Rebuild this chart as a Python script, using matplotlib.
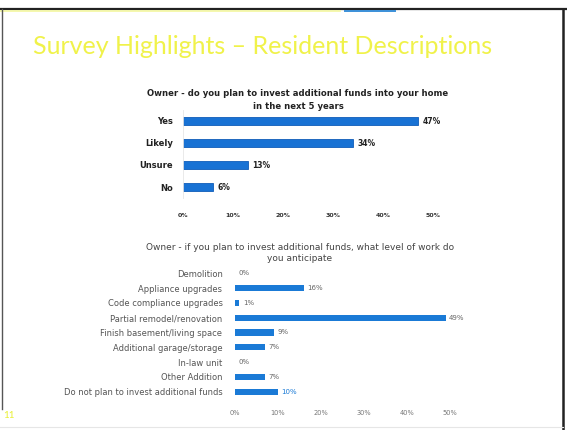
import matplotlib.pyplot as plt
from matplotlib.lines import Line2D

W, H = 567, 430

# intent to invest (top chart)
plan_labels = ["Yes", "Likely", "Unsure", "No"]
plan_values = [47, 34, 13, 6]

# level of work anticipated (bottom chart)
work_labels = [
    "Demolition",
    "Appliance upgrades",
    "Code compliance upgrades",
    "Partial remodel/renovation",
    "Finish basement/living space",
    "Additional garage/storage",
    "In-law unit",
    "Other Addition",
    "Do not plan to invest additional funds",
]
work_values = [0, 16, 1, 49, 9, 7, 0, 7, 10]

xticks = [0, 10, 20, 30, 40, 50]
xtick_labels = ["0%", "10%", "20%", "30%", "40%", "50%"]


def px_axes(fig, left, top, right, bottom):
    return fig.add_axes([left / W, 1 - bottom / H, (right - left) / W, (bottom - top) / H])


fig = plt.figure(figsize=(W / 100, H / 100), dpi=100)
fig.patch.set_facecolor("white")

# slide frame
frame = dict(transform=fig.transFigure, zorder=10)
fig.add_artist(Line2D([0, 1], [1 - 9 / H, 1 - 9 / H], color="#222222", lw=1.6, **frame))
fig.add_artist(Line2D([0, 340 / W], [1 - 11 / H, 1 - 11 / H], color="#f4f7a0", lw=1.2, **frame))
fig.add_artist(Line2D([345 / W, 395 / W], [1 - 10.5 / H, 1 - 10.5 / H], color="#3a8fd8", lw=1.4, **frame))
fig.add_artist(Line2D([563 / W, 563 / W], [0, 1 - 9 / H], color="#222222", lw=1.8, **frame))
fig.add_artist(Line2D([1.5 / W, 1.5 / W], [0.05, 1 - 9 / H], color="#555555", lw=1.0, **frame))
fig.add_artist(Line2D([0, 563 / W], [3 / H, 3 / H], color="#e6e6e6", lw=0.8, **frame))

fig.text(263 / W, 1 - 47 / H, "Survey Highlights \u2013 Resident Descriptions",
         ha="center", va="center", fontsize=18, color="#f0f24a", family="Lato")
fig.text(9 / W, 1 - 416 / H, "11", ha="center", va="center", fontsize=7,
         color="#e8ef30", family="Lato")

# top chart
ax1 = px_axes(fig, 183, 110, 433, 198)
y1 = range(len(plan_labels))
bars = ax1.barh(y1, plan_values, height=0.36, color="#1872d4", edgecolor="#0f5cb8", lw=0.6)
ax1.set_ylim(len(plan_labels) - 0.5, -0.5)
ax1.set_xlim(0, 50)
ax1.set_yticks(list(y1))
ax1.set_yticklabels(plan_labels, fontsize=6, fontweight="bold", color="#222222")
ax1.set_xticks(xticks)
ax1.set_xticklabels(xtick_labels, fontsize=4.5, fontweight="bold", color="#333333")
ax1.tick_params(length=0, axis="y", pad=7)
ax1.tick_params(length=0, axis="x", pad=11)
for s in ["top", "right", "bottom"]:
    ax1.spines[s].set_visible(False)
ax1.spines["left"].set_color("#e6e6e6")
ax1.spines["left"].set_linewidth(0.6)
for b, v in zip(bars, plan_values):
    ax1.text(v + 0.9, b.get_y() + b.get_height() / 2, f"{v}%", va="center",
             fontsize=5.5, fontweight="bold", color="#222222")
fig.text(298 / W, 1 - 100 / H,
         "Owner - do you plan to invest additional funds into your home\nin the next 5 years",
         ha="center", va="center", fontsize=6.1, fontweight="bold", color="#222222",
         linespacing=1.45)

# bottom chart
ax2 = px_axes(fig, 235, 266, 450, 399)
y2 = range(len(work_labels))
bars2 = ax2.barh(y2, work_values, height=0.42, color="#1a7ad6")
ax2.set_ylim(len(work_labels) - 0.5, -0.5)
ax2.set_xlim(0, 50)
ax2.set_yticks(list(y2))
ax2.set_yticklabels(work_labels, fontsize=6, color="#555555")
ax2.set_xticks(xticks)
ax2.set_xticklabels(xtick_labels, fontsize=4.8, color="#777777")
ax2.tick_params(length=0, axis="y", pad=9)
ax2.tick_params(length=0, axis="x", pad=8)
for s in ["top", "right", "bottom", "left"]:
    ax2.spines[s].set_visible(False)
for i, (b, v) in enumerate(zip(bars2, work_values)):
    ax2.text(v + 0.8, b.get_y() + b.get_height() / 2, f"{v}%", va="center",
             fontsize=5, color="#1a7ad6" if i == len(work_values) - 1 else "#666666")
fig.text(300 / W, 1 - 253 / H,
         "Owner - if you plan to invest additional funds, what level of work do\nyou anticipate",
         ha="center", va="center", fontsize=6.5, color="#444444", linespacing=1.3)

fig.savefig("out.png", dpi=100, facecolor="white")
